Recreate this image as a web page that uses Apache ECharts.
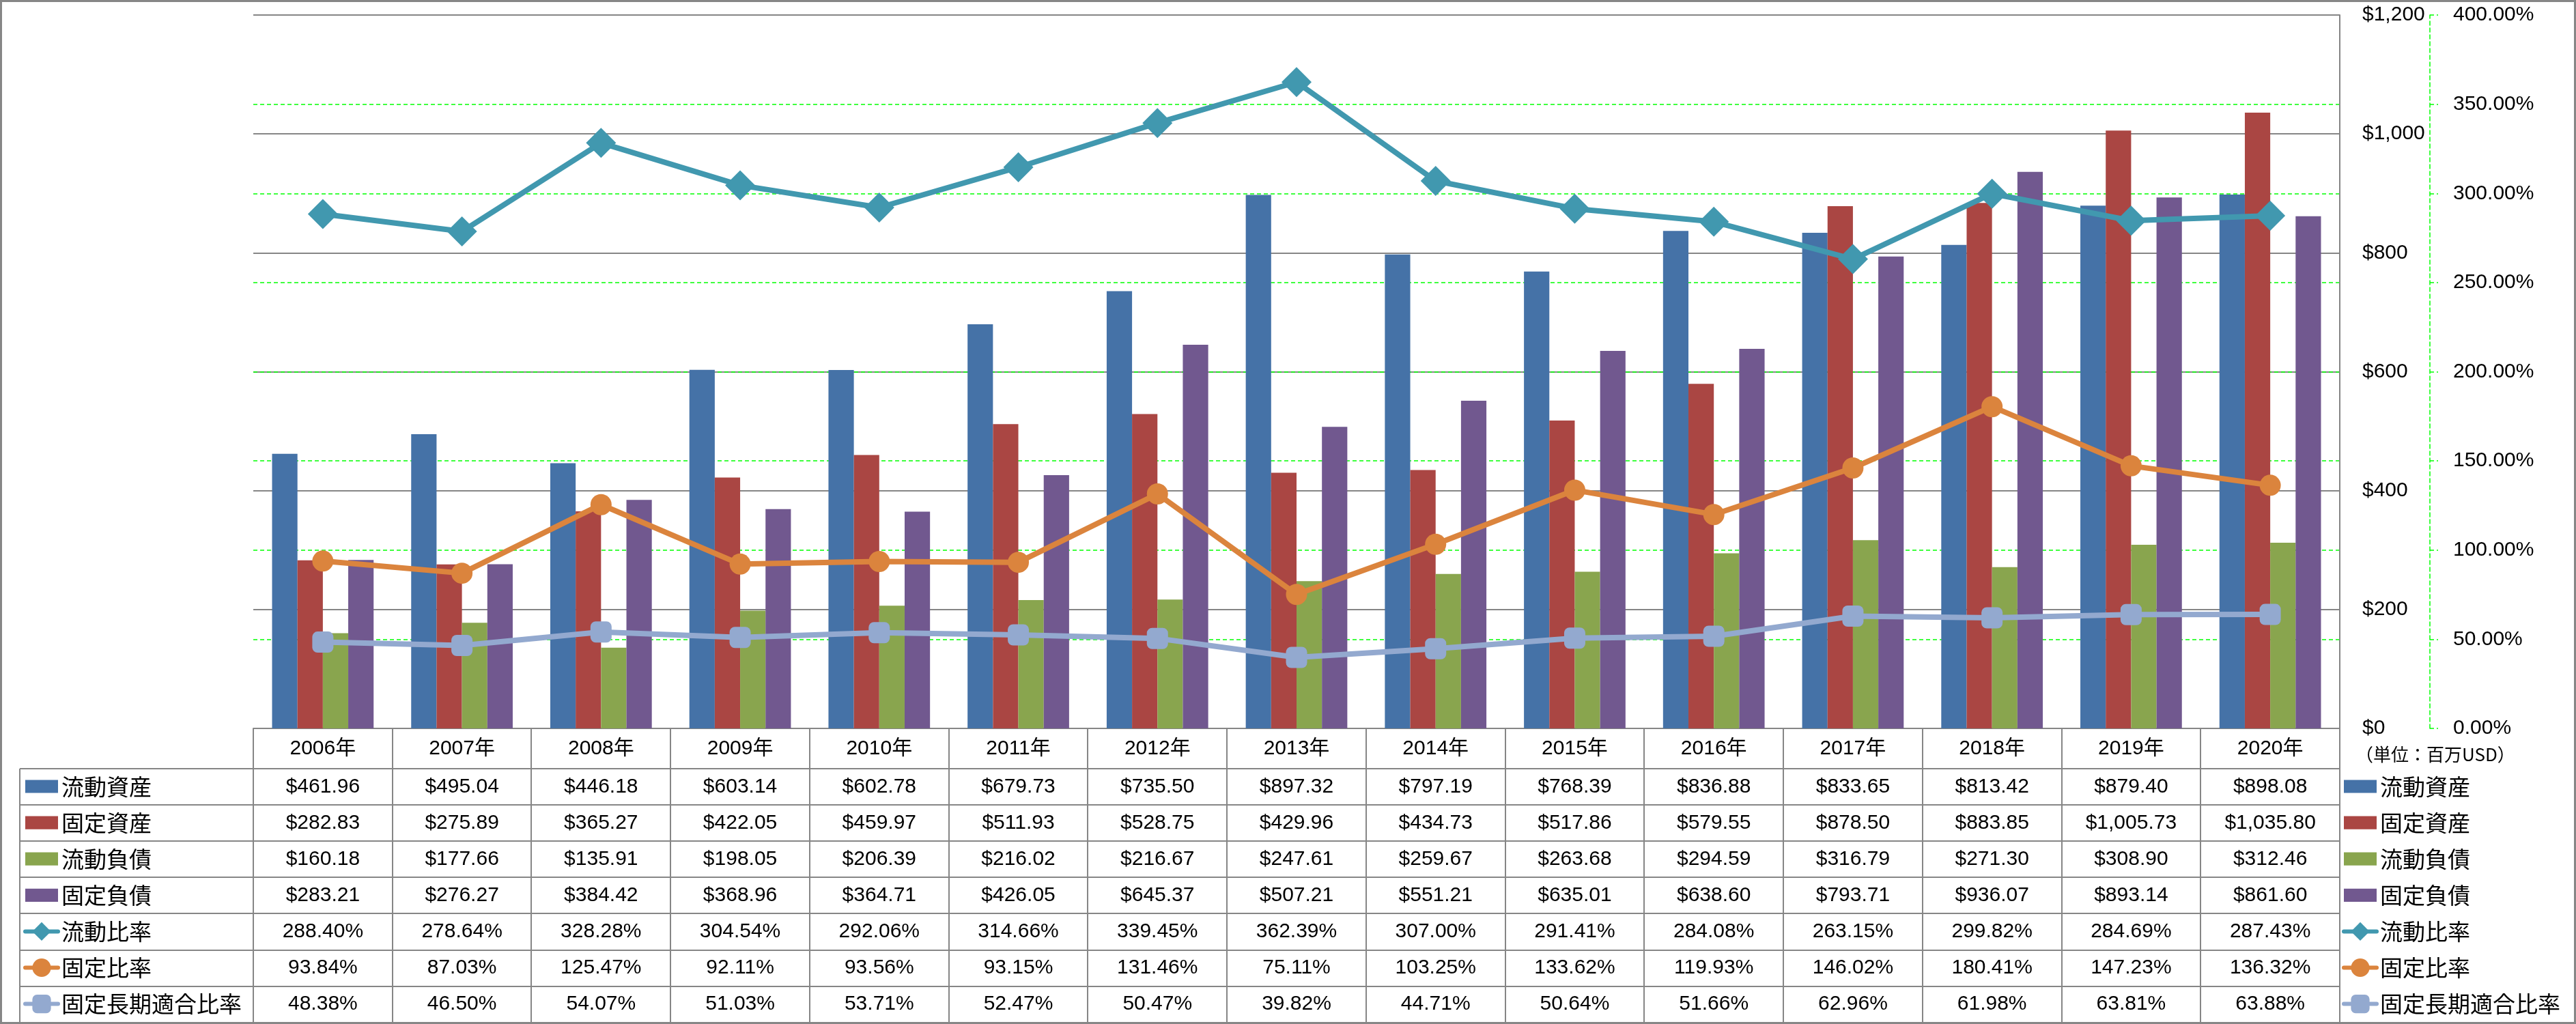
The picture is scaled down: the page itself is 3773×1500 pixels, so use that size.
<!DOCTYPE html>
<html>
<head>
<meta charset="utf-8">
<script src="https://cdn.jsdelivr.net/npm/echarts@6/dist/echarts.min.js"></script>
<style>html,body{margin:0;padding:0;background:#fff}#c{width:3773px;height:1500px}</style>
</head>
<body>
<div id="c"></div>
<script>
const years = ['2006年','2007年','2008年','2009年','2010年','2011年','2012年','2013年','2014年','2015年','2016年','2017年','2018年','2019年','2020年'];
const currentAssets = [461.96,495.04,446.18,603.14,602.78,679.73,735.50,897.32,797.19,768.39,836.88,833.65,813.42,879.40,898.08];
const fixedAssets = [282.83,275.89,365.27,422.05,459.97,511.93,528.75,429.96,434.73,517.86,579.55,878.50,883.85,1005.73,1035.80];
const currentLiabilities = [160.18,177.66,135.91,198.05,206.39,216.02,216.67,247.61,259.67,263.68,294.59,316.79,271.30,308.90,312.46];
const fixedLiabilities = [283.21,276.27,384.42,368.96,364.71,426.05,645.37,507.21,551.21,635.01,638.60,793.71,936.07,893.14,861.60];
const currentRatio = [288.40,278.64,328.28,304.54,292.06,314.66,339.45,362.39,307.00,291.41,284.08,263.15,299.82,284.69,287.43];
const fixedRatio = [93.84,87.03,125.47,92.11,93.56,93.15,131.46,75.11,103.25,133.62,119.93,146.02,180.41,147.23,136.32];
const fixedLongTermRatio = [48.38,46.50,54.07,51.03,53.71,52.47,50.47,39.82,44.71,50.64,51.66,62.96,61.98,63.81,63.88];

const names = ['流動資産','固定資産','流動負債','固定負債','流動比率','固定比率','固定長期適合比率'];
const colors = ['#4572A7','#AA4643','#89A54E','#71588F','#4198AF','#DB843D','#93A9CF'];
const unitNote = '（単位：百万USD）';

// layout
const W = 3773, H = 1500;
const gL = 371, gR = 3427, gT = 22, gB = 1067;
const headerBottom = 1126, rowH = 53.1;
const colW = (gR - gL) / years.length;
const FONT = "'Liberation Sans','Noto Sans CJK JP',sans-serif";

const money = v => '$' + v.toLocaleString('en-US', {minimumFractionDigits: 2, maximumFractionDigits: 2});
const pct = v => v.toFixed(2) + '%';
const rows = [
  currentAssets.map(money), fixedAssets.map(money), currentLiabilities.map(money), fixedLiabilities.map(money),
  currentRatio.map(pct), fixedRatio.map(pct), fixedLongTermRatio.map(pct)
];

const xAxes = [{
  type: 'category', data: years, position: 'bottom', gridIndex: 0,
  axisLine: {show: true, lineStyle: {color: '#868686', width: 2}},
  axisTick: {show: false},
  axisLabel: {interval: 0, margin: (1068 + headerBottom) / 2 - gB, verticalAlign: 'middle', fontSize: 30, fontFamily: FONT, color: '#000'},
  splitLine: {show: false}
}];
rows.forEach((r, k) => {
  xAxes.push({
    type: 'category', data: years, position: 'bottom', gridIndex: 0,
    axisLine: {show: false}, axisTick: {show: false}, splitLine: {show: false},
    axisLabel: {interval: 0, margin: headerBottom + rowH * (k + 0.5) - gB, verticalAlign: 'middle',
      fontSize: 30, fontFamily: FONT, color: '#000', formatter: (v, i) => r[i]}
  });
});

const graphics = [];
const lineStyle = {stroke: '#868686', lineWidth: 2};
for (let k = 0; k <= 7; k++) {
  const y = Math.round(headerBottom + rowH * k);
  graphics.push({type: 'line', shape: {x1: 29, y1: y, x2: gR, y2: y}, style: lineStyle, silent: true});
}
graphics.push({type: 'line', shape: {x1: 29, y1: headerBottom, x2: 29, y2: H}, style: lineStyle, silent: true});
for (let k = 0; k <= years.length; k++) {
  const x = Math.round(gL + colW * k);
  graphics.push({type: 'line', shape: {x1: x, y1: gB, x2: x, y2: H}, style: lineStyle, silent: true});
}
graphics.push({type: 'text', left: 3450, top: 1092, style: {text: unitNote, fontSize: 26, fontFamily: "'Noto Sans CJK JP'", fill: '#000'}, silent: true});
graphics.push({type: 'rect', shape: {x: 1.5, y: 1.5, width: W - 3, height: H - 3}, style: {fill: 'none', stroke: '#868686', lineWidth: 3}, silent: true, z: 100});

const barIcon = 'path://M0,0H45V18H0Z';
const legendData = names.map((n, i) => i < 4 ? {name: n, icon: barIcon} : {name: n, lineStyle: {width: 6, cap: 'round'}});
const legendBase = {
  orient: 'vertical', top: 1135, itemGap: 19.1, itemWidth: 48, itemHeight: 34, selectedMode: false,
  padding: 0, textStyle: {fontSize: 33, fontFamily: "'Noto Sans CJK JP'", color: '#000', lineHeight: 34},
  data: legendData
};

const barSeries = [currentAssets, fixedAssets, currentLiabilities, fixedLiabilities].map((d, i) => ({
  name: names[i], type: 'bar', data: d, xAxisIndex: 0, yAxisIndex: 0,
  barGap: '0%', barCategoryGap: '27%', itemStyle: {color: colors[i]}, z: 2
}));
const lineDefs = [
  {d: currentRatio, symbol: 'diamond', size: [44, 44]},
  {d: fixedRatio, symbol: 'circle', size: 31},
  {d: fixedLongTermRatio, symbol: 'roundRect', size: 31}
];
const lineSeries = lineDefs.map((l, j) => ({
  name: names[4 + j], type: 'line', data: l.d, xAxisIndex: 0, yAxisIndex: 1,
  symbol: l.symbol, symbolSize: l.size, showAllSymbol: true,
  lineStyle: {color: colors[4 + j], width: 8}, itemStyle: {color: colors[4 + j]}, z: 5
}));

const chart = echarts.init(document.getElementById('c'));
chart.setOption({
  animation: false,
  backgroundColor: '#fff',
  grid: {left: gL, right: W - gR, top: gT, bottom: H - gB},
  legend: [
    Object.assign({}, legendBase, {left: 34}),
    Object.assign({}, legendBase, {left: 3430})
  ],
  xAxis: xAxes,
  yAxis: [
    {type: 'value', position: 'right', min: 0, max: 1200, interval: 200,
      axisLine: {show: true, lineStyle: {color: '#868686', width: 2}}, axisTick: {show: false},
      axisLabel: {margin: 33, fontSize: 30, fontFamily: FONT, color: '#000',
        formatter: v => '$' + v.toLocaleString('en-US')},
      splitLine: {show: true, lineStyle: {color: '#868686', width: 2}}},
    {type: 'value', position: 'right', offset: 132, min: 0, max: 400, interval: 50,
      axisLine: {show: true, lineStyle: {color: '#00FF00', width: 1.5, type: [6, 4]}},
      axisTick: {show: true, length: 12, lineStyle: {color: '#00FF00', width: 1.5, type: [6, 4]}},
      axisLabel: {margin: 34, fontSize: 30, fontFamily: FONT, color: '#000', formatter: v => v.toFixed(2) + '%'},
      splitLine: {show: true, showMaxLine: false, showMinLine: false, lineStyle: {color: '#00FF00', width: 1.5, type: [6, 4]}}}
  ],
  series: barSeries.concat(lineSeries),
  graphic: graphics
});
</script>
</body>
</html>
